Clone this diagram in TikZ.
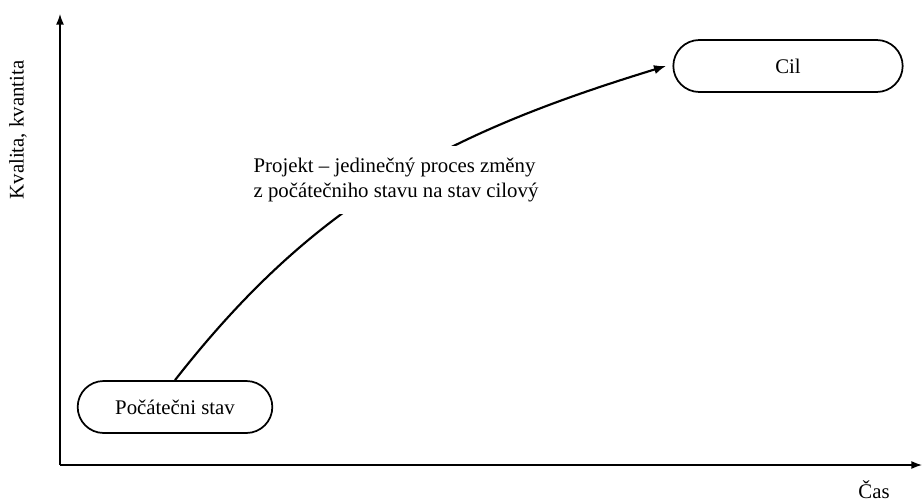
\documentclass[tikz,border=0pt]{standalone}
\usepackage{fontspec}
\setmainfont{Liberation Serif}
\usetikzlibrary{shapes.misc,arrows.meta}

\begin{document}
\begin{tikzpicture}
  [x=0.75pt,y=-0.75pt,font=\fontsize{15.6}{19}\selectfont,
   stav/.style={rounded rectangle,draw,line width=1.3pt,minimum height=39pt,inner sep=0pt},
   osa/.style={line width=1pt,-{Latex[length=8pt,width=6pt]}}]
  \useasboundingbox (0,0) rectangle (924,503);
  \coordinate (o) at (60,465);
  \coordinate (ytop) at (60,14);
  \coordinate (xend) at (922,465);
  \draw[osa] (o) -- (ytop);
  \draw[osa] (o) -- (xend);
  \node[rotate=90] (ylab) at (18,130) {Kvalita, kvantita};
  \node (xlab) at (874,490) {Čas};
  \node[stav,minimum width=146pt] (start) at (175,407) {Počátečni stav};
  \node[stav,minimum width=172pt] (cil) at (788,66) {Cil};
  \coordinate (tip) at (666,66);
  \draw[line width=1.6pt,-{Latex[length=9pt,width=7pt]}] (start.north) to[out=52,in=197] (tip);
  \node[fill=white,align=left,inner xsep=2pt,inner ysep=9pt] (proj) at (396,180)
    {Projekt – jedinečný proces změny\\z počátečniho stavu na stav cilový};
\end{tikzpicture}
\end{document}
